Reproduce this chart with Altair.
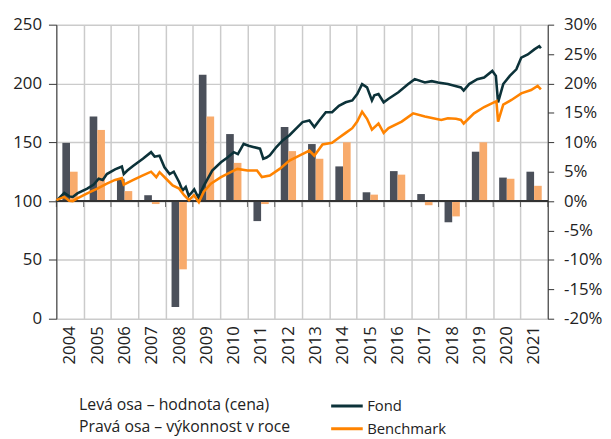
import altair as alt
import pandas as pd

# ---------------- data ----------------
years = list(range(2004, 2022))
fond_ret = [9.9, 14.4, 3.8, 1.0, -18.0, 21.5, 11.4, -3.4, 12.6, 9.7, 5.9, 1.5, 5.1, 1.2, -3.6, 8.4, 4.0, 5.0]
bench_ret = [5.0, 12.1, 1.7, -0.5, -11.6, 14.4, 6.5, -0.5, 8.5, 7.2, 10.0, 1.1, 4.5, -0.7, -2.6, 10.0, 3.8, 2.6]

fond_t = [2004.0, 2004.12, 2004.29, 2004.47, 2004.6, 2004.77, 2005.13, 2005.37, 2005.55, 2005.7,
          2005.85, 2006.15, 2006.4, 2006.47, 2006.6, 2006.82, 2007.17, 2007.47, 2007.6, 2007.78,
          2007.96, 2008.15, 2008.3, 2008.5, 2008.62, 2008.74, 2008.85, 2008.93, 2009.05, 2009.2,
          2009.4, 2009.71, 2010.03, 2010.27, 2010.5, 2010.65, 2010.86, 2011.04, 2011.21, 2011.46,
          2011.58, 2011.7, 2011.82, 2012.06, 2012.3, 2012.54, 2012.78, 2013.02, 2013.27, 2013.45,
          2013.63, 2013.87, 2014.1, 2014.35, 2014.6, 2014.84, 2015.02, 2015.2, 2015.38, 2015.56,
          2015.65, 2015.8, 2015.99, 2016.17, 2016.53, 2016.89, 2017.13, 2017.5, 2017.75, 2017.98,
          2018.34, 2018.58, 2018.82, 2018.92, 2019.12, 2019.42, 2019.67, 2019.97, 2020.1, 2020.18,
          2020.37, 2020.61, 2020.85, 2021.03, 2021.27, 2021.51, 2021.69, 2021.75]
fond_v = [100, 103, 107, 104, 103.5, 106.5, 110.6, 114, 119, 118,
          123, 127, 129.4, 123, 126, 130, 136, 141.6, 137.8, 138.6,
          128.8, 123, 125, 116, 109, 112, 104.5, 106.5, 110, 103,
          113, 126, 133, 137, 141.6, 140, 148.6, 147, 146, 144.6,
          136, 137, 139, 146, 151.8, 156, 161.7, 167.2, 168.6, 163,
          168.6, 175.6, 175.6, 181, 184, 185.6, 191, 199.5, 196.7, 185.6,
          190, 191, 184, 187, 192.5, 199.5, 203.7, 200.8, 202, 200.8,
          199.5, 198, 196.6, 194, 199.5, 203.7, 205, 210.7, 206.5, 184,
          199.5, 206.5, 212, 222, 224.7, 229, 231.7, 230]

bench_t = [2004.0, 2004.29, 2004.47, 2004.6, 2004.77, 2005.13, 2005.5, 2005.85, 2006.15, 2006.4,
           2006.47, 2006.82, 2007.17, 2007.47, 2007.66, 2007.78, 2008.02, 2008.26, 2008.5, 2008.68,
           2008.86, 2009.04, 2009.22, 2009.4, 2009.66, 2010.03, 2010.39, 2010.63, 2011.0, 2011.35,
           2011.53, 2011.82, 2012.18, 2012.54, 2012.9, 2013.27, 2013.45, 2013.75, 2014.1, 2014.35,
           2014.6, 2014.84, 2015.02, 2015.2, 2015.38, 2015.56, 2015.8, 2015.99, 2016.17, 2016.65,
           2017.07, 2017.5, 2018.1, 2018.34, 2018.64, 2018.82, 2018.92, 2019.3, 2019.67, 2020.03,
           2020.12, 2020.18, 2020.37, 2020.67, 2021.03, 2021.39, 2021.63, 2021.75]
bench_v = [100.8, 103.6, 100.3, 100, 102.3, 106.5, 110.6, 114.8, 118, 119.5,
           114, 118, 121.8, 125, 120.4, 124.6, 119, 113.4, 110.6, 105,
           100.8, 105, 99, 108, 114.8, 120.4, 124.6, 127.4, 126, 126,
           120.4, 121.8, 127.4, 134.4, 138.6, 143, 138.6, 148.2, 149.6, 153.8,
           158, 162, 167.6, 176, 170, 160.8, 166, 158, 162, 167.6,
           174.6, 172, 169, 170.5, 170, 169, 166, 174.6, 180, 184,
           185, 167.6, 182, 186, 191.6, 194.4, 198, 195]

series_names = ["Fond", "Benchmark"]
left_ticks = list(range(0, 275, 25))
right_ticks = list(range(-20, 35, 5))
grid_years = years + [2022]

# ---------------- tables ----------------
bars_df = pd.DataFrame({
    "year": years * 2,
    "series": [series_names[0]] * len(years) + [series_names[1]] * len(years),
    "ret": fond_ret + bench_ret,
})
lines_df = pd.concat([
    pd.DataFrame({"t": fond_t, "v": fond_v, "series": series_names[0]}),
    pd.DataFrame({"t": bench_t, "v": bench_v, "series": series_names[1]}),
], ignore_index=True)
ticks_df = pd.DataFrame({"year": grid_years})

FONT = "Open Sans"
W, H = 498, 298
GRID = "#cbcbcb"
AX = "#333333"

xscale = alt.Scale(domain=[2004, 2022], nice=False, zero=False)
xaxis = alt.Axis(
    values=grid_years, grid=True, gridColor=GRID, gridWidth=1.5,
    ticks=False, tickSize=0, domain=False, labelAngle=270,
    labelExpr="datum.value == 2022 ? '' : datum.value",
    labelOffset=13.8, labelPadding=7, title=None,
)
left_scale = alt.Scale(domain=[0, 250], nice=False, zero=False)

bars = alt.Chart(bars_df).transform_calculate(
    x0="datum.year + (datum.series == 'Fond' ? 0.22 : 0.5)",
    x1="datum.year + (datum.series == 'Fond' ? 0.5 : 0.78)",
    base="0",
).mark_rect().encode(
    x=alt.X("x0:Q", scale=xscale, axis=xaxis),
    x2="x1:Q",
    y=alt.Y("ret:Q", scale=alt.Scale(domain=[-20, 30], nice=False, zero=False),
            axis=alt.Axis(orient="right", values=right_ticks, labelExpr="datum.value + '%'",
                          grid=False, tickSize=6, labelPadding=10, title=None,
                          domainColor=AX, tickColor=AX)),
    y2="base:Q",
    color=alt.Color("series:N", scale=alt.Scale(domain=series_names, range=["#4b505a", "#f8ab6c"]),
                    legend=None),
)

lines = alt.Chart(lines_df).mark_line(strokeWidth=2.6).encode(
    x=alt.X("t:Q", scale=xscale, axis=xaxis),
    y=alt.Y("v:Q", scale=left_scale,
            axis=alt.Axis(orient="left", values=left_ticks, grid=True, gridColor=GRID,
                          gridWidth=1.5, tickSize=8, labelPadding=7, title=None,
                          domainColor=AX, tickColor=AX)),
    color=alt.Color("series:N", scale=alt.Scale(domain=series_names, range=["#0c3239", "#ff8300"]),
                    legend=alt.Legend(orient="none", legendX=277, legendY=375, title=None,
                                      symbolType="stroke", symbolSize=1024, symbolStrokeWidth=3,
                                      clipHeight=23, rowPadding=0, labelOffset=3,
                                      labelFontSize=15, labelFont=FONT, labelColor="#222")),
)

zero_rule = alt.Chart(ticks_df).transform_calculate(v="100").mark_rule(
    color=AX, strokeWidth=1.2).encode(y=alt.Y("v:Q", scale=left_scale))

xticks = alt.Chart(ticks_df).transform_calculate(v="100").mark_tick(
    orient="vertical", size=6, thickness=1, yOffset=3, color=AX).encode(
    x=alt.X("year:Q", scale=xscale, axis=xaxis),
    y=alt.Y("v:Q", scale=left_scale),
)

note_df = pd.DataFrame({"a": [0]})
note1 = alt.Chart(note_df).mark_text(
    text="Levá osa – hodnota (cena)", align="left", baseline="middle",
    font=FONT, fontSize=16, color="#222").encode(x=alt.value(23), y=alt.value(386))
note2 = alt.Chart(note_df).mark_text(
    text="Pravá osa – výkonnost v roce", align="left", baseline="middle",
    font=FONT, fontSize=16, color="#222").encode(x=alt.value(23), y=alt.value(408))

left = alt.layer(zero_rule, xticks, lines, note1, note2)

chart = alt.layer(bars, left).resolve_scale(
    y="independent", color="independent"
).properties(
    width=W, height=H,
    autosize=alt.AutoSizeParams(type="none"),
    padding={"left": 49, "top": 14, "right": 56, "bottom": 119},
).configure_view(stroke=None).configure_axis(
    labelFont=FONT, labelFontSize=17, labelColor="#222",
)

chart.save("out.html", embed_options={"renderer": "svg", "actions": False})
